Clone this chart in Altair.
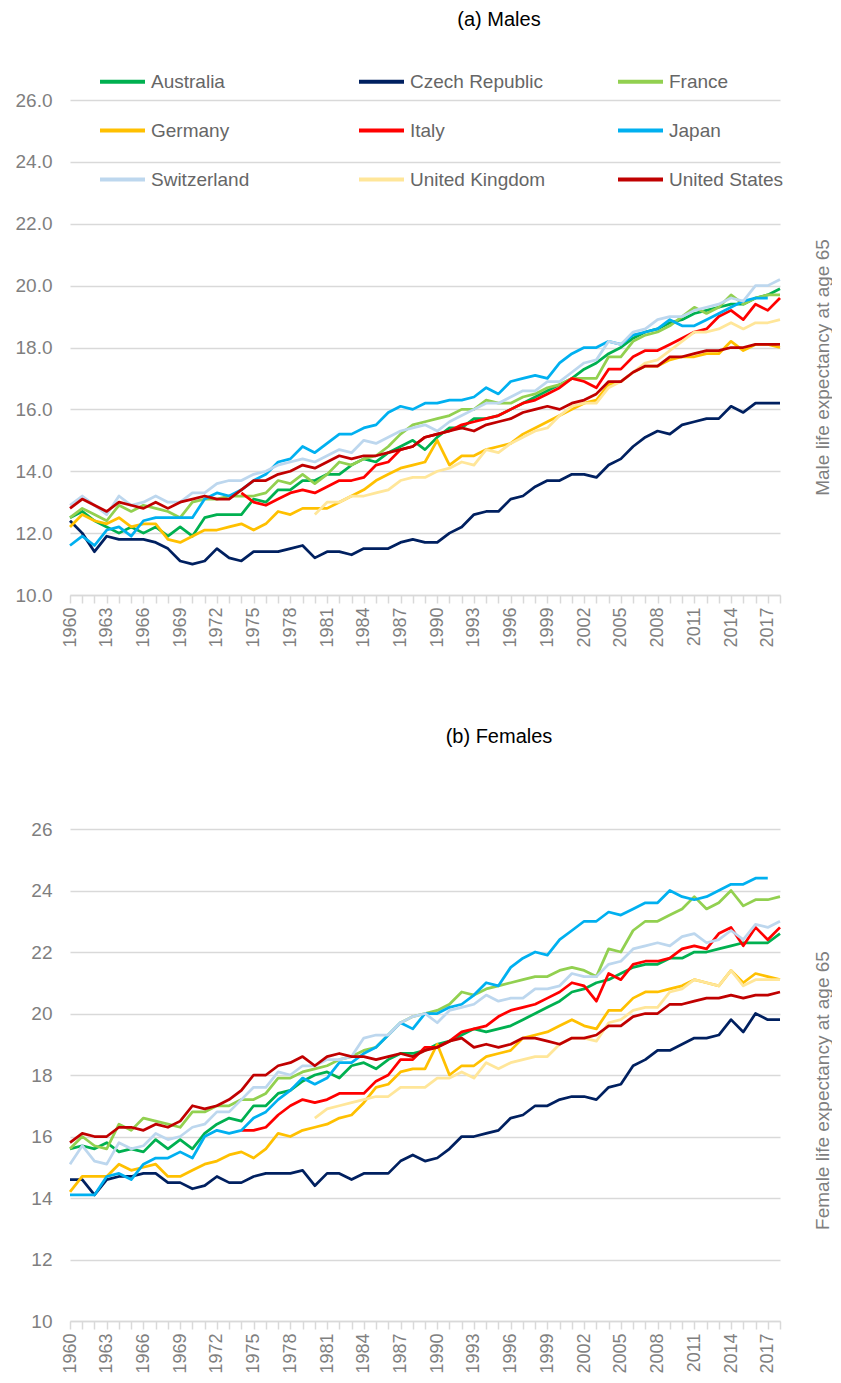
import altair as alt
import pandas as pd

N = None
years = list(range(1960, 2019))
countries = ["Australia", "Czech Republic", "France", "Germany", "Italy",
             "Japan", "Switzerland", "United Kingdom", "United States"]
colors = ["#00B050", "#002060", "#92D050", "#FFC000", "#FF0000",
          "#00B0F0", "#BDD7EE", "#FFE699", "#C00000"]
y_ticks = [10, 12, 14, 16, 18, 20, 22, 24, 26]

# ---------------- Males (1960..2018) ----------------
male_australia = [12.5, 12.7, 12.4, 12.2, 12.0, 12.2, 12.0, 12.2, 11.9, 12.2,
                  11.9, 12.5, 12.6, 12.6, 12.6, 13.1, 13.0, 13.4, 13.4, 13.7,
                  13.7, 13.9, 13.9, 14.2, 14.4, 14.3, 14.6, 14.8, 15.0, 14.7,
                  15.1, 15.4, 15.4, 15.7, 15.7, 15.8, 16.0, 16.2, 16.4, 16.6,
                  16.8, 17.0, 17.3, 17.5, 17.8, 18.0, 18.3, 18.5, 18.6, 18.8,
                  18.9, 19.1, 19.2, 19.3, 19.4, 19.4, 19.6, 19.7, 19.9]
male_czech = [12.4, 12.0, 11.4, 11.9, 11.8, 11.8, 11.8, 11.7, 11.5, 11.1,
              11.0, 11.1, 11.5, 11.2, 11.1, 11.4, 11.4, 11.4, 11.5, 11.6,
              11.2, 11.4, 11.4, 11.3, 11.5, 11.5, 11.5, 11.7, 11.8, 11.7,
              11.7, 12.0, 12.2, 12.6, 12.7, 12.7, 13.1, 13.2, 13.5, 13.7,
              13.7, 13.9, 13.9, 13.8, 14.2, 14.4, 14.8, 15.1, 15.3, 15.2,
              15.5, 15.6, 15.7, 15.7, 16.1, 15.9, 16.2, 16.2, 16.2]
male_france = [12.5, 12.8, 12.6, 12.4, 12.9, 12.7, 12.9, 12.8, 12.7, 12.5,
               13.0, 13.1, 13.1, 13.2, 13.2, 13.2, 13.3, 13.7, 13.6, 13.9,
               13.6, 13.9, 14.3, 14.2, 14.4, 14.5, 14.8, 15.2, 15.5, 15.6,
               15.7, 15.8, 16.0, 16.0, 16.3, 16.2, 16.2, 16.4, 16.5, 16.7,
               16.8, 17.0, 17.0, 17.0, 17.7, 17.7, 18.2, 18.4, 18.5, 18.7,
               19.0, 19.3, 19.1, 19.3, 19.7, 19.4, 19.6, 19.7, 19.7]
male_germany = [12.2, 12.6, 12.4, 12.3, 12.5, 12.2, 12.3, 12.3, 11.8, 11.7,
                11.9, 12.1, 12.1, 12.2, 12.3, 12.1, 12.3, 12.7, 12.6, 12.8,
                12.8, 12.8, 13.0, 13.2, 13.4, 13.7, 13.9, 14.1, 14.2, 14.3,
                15.0, 14.2, 14.5, 14.5, 14.7, 14.8, 14.9, 15.2, 15.4, 15.6,
                15.8, 16.0, 16.2, 16.3, 16.8, 16.9, 17.2, 17.4, 17.4, 17.6,
                17.7, 17.7, 17.8, 17.8, 18.2, 17.9, 18.1, 18.1, 18.0]
male_italy = [N] * 14 + [13.3, 13.0, 12.9, 13.1, 13.3, 13.4,
              13.3, 13.5, 13.7, 13.7, 13.8, 14.2, 14.3, 14.7, 14.8, 15.1,
              15.2, 15.3, 15.5, 15.6, 15.7, 15.8, 16.0, 16.2, 16.3, 16.5,
              16.7, 17.0, 16.9, 16.7, 17.3, 17.3, 17.7, 17.9, 17.9, 18.1,
              18.3, 18.5, 18.6, 19.0, 19.2, 18.9, 19.4, 19.2, 19.6]
male_japan = [11.6, 11.9, 11.6, 12.1, 12.2, 11.9, 12.4, 12.5, 12.5, 12.5,
              12.5, 13.1, 13.3, 13.2, 13.4, 13.7, 13.9, 14.3, 14.4, 14.8,
              14.6, 14.9, 15.2, 15.2, 15.4, 15.5, 15.9, 16.1, 16.0, 16.2,
              16.2, 16.3, 16.3, 16.4, 16.7, 16.5, 16.9, 17.0, 17.1, 17.0,
              17.5, 17.8, 18.0, 18.0, 18.2, 18.1, 18.4, 18.5, 18.6, 18.9,
              18.7, 18.7, 18.9, 19.1, 19.3, 19.5, 19.6, 19.6, N]
male_switzerland = [12.9, 13.2, 12.9, 12.6, 13.2, 12.9, 13.0, 13.2, 13.0, 13.0,
                    13.3, 13.3, 13.6, 13.7, 13.7, 13.9, 14.0, 14.2, 14.3, 14.4,
                    14.3, 14.5, 14.7, 14.6, 15.0, 14.9, 15.1, 15.3, 15.4, 15.5,
                    15.3, 15.6, 15.8, 16.0, 16.2, 16.2, 16.4, 16.6, 16.6, 16.9,
                    16.9, 17.2, 17.5, 17.6, 18.2, 18.1, 18.5, 18.6, 18.9, 19.0,
                    19.0, 19.2, 19.3, 19.4, 19.6, 19.5, 20.0, 20.0, 20.2]
male_uk = [N] * 20 + [12.6, 13.0, 13.0, 13.2, 13.2, 13.3, 13.4, 13.7, 13.8, 13.8,
                      14.0, 14.1, 14.3, 14.2, 14.7, 14.6, 14.9, 15.1, 15.3, 15.4,
                      15.8, 16.1, 16.2, 16.2, 16.7, 16.9, 17.2, 17.5, 17.6, 17.9,
                      18.2, 18.5, 18.5, 18.6, 18.8, 18.6, 18.8, 18.8, 18.9]
male_us = [12.8, 13.1, 12.9, 12.7, 13.0, 12.9, 12.8, 13.0, 12.8, 13.0,
           13.1, 13.2, 13.1, 13.1, 13.4, 13.7, 13.7, 13.9, 14.0, 14.2,
           14.1, 14.3, 14.5, 14.4, 14.5, 14.5, 14.6, 14.7, 14.8, 15.1,
           15.2, 15.3, 15.4, 15.3, 15.5, 15.6, 15.7, 15.9, 16.0, 16.1,
           16.0, 16.2, 16.3, 16.5, 16.9, 16.9, 17.2, 17.4, 17.4, 17.7,
           17.7, 17.8, 17.9, 17.9, 18.0, 18.0, 18.1, 18.1, 18.1]

# ---------------- Females (1960..2018) ----------------
female_australia = [15.6, 15.7, 15.6, 15.8, 15.5, 15.6, 15.5, 15.9, 15.6, 15.9,
                    15.6, 16.1, 16.4, 16.6, 16.5, 17.0, 17.0, 17.4, 17.5, 17.8,
                    18.0, 18.1, 17.9, 18.3, 18.4, 18.2, 18.5, 18.7, 18.7, 18.8,
                    19.0, 19.1, 19.3, 19.5, 19.4, 19.5, 19.6, 19.8, 20.0, 20.2,
                    20.4, 20.7, 20.8, 21.0, 21.1, 21.3, 21.5, 21.6, 21.6, 21.8,
                    21.8, 22.0, 22.0, 22.1, 22.2, 22.3, 22.3, 22.3, 22.6]
female_czech = [14.6, 14.6, 14.1, 14.6, 14.7, 14.7, 14.8, 14.8, 14.5, 14.5,
                14.3, 14.4, 14.7, 14.5, 14.5, 14.7, 14.8, 14.8, 14.8, 14.9,
                14.4, 14.8, 14.8, 14.6, 14.8, 14.8, 14.8, 15.2, 15.4, 15.2,
                15.3, 15.6, 16.0, 16.0, 16.1, 16.2, 16.6, 16.7, 17.0, 17.0,
                17.2, 17.3, 17.3, 17.2, 17.6, 17.7, 18.3, 18.5, 18.8, 18.8,
                19.0, 19.2, 19.2, 19.3, 19.8, 19.4, 20.0, 19.8, 19.8]
female_france = [15.6, 16.0, 15.7, 15.6, 16.4, 16.2, 16.6, 16.5, 16.4, 16.3,
                 16.8, 16.8, 17.0, 17.0, 17.2, 17.2, 17.4, 17.9, 17.9, 18.1,
                 18.2, 18.3, 18.5, 18.6, 18.8, 18.9, 19.3, 19.7, 19.9, 20.0,
                 20.1, 20.3, 20.7, 20.6, 20.8, 20.9, 21.0, 21.1, 21.2, 21.2,
                 21.4, 21.5, 21.4, 21.2, 22.1, 22.0, 22.7, 23.0, 23.0, 23.2,
                 23.4, 23.8, 23.4, 23.6, 24.0, 23.5, 23.7, 23.7, 23.8]
female_germany = [14.2, 14.7, 14.7, 14.7, 15.1, 14.9, 15.0, 15.1, 14.7, 14.7,
                  14.9, 15.1, 15.2, 15.4, 15.5, 15.3, 15.6, 16.1, 16.0, 16.2,
                  16.3, 16.4, 16.6, 16.7, 17.1, 17.6, 17.7, 18.1, 18.2, 18.2,
                  19.0, 18.0, 18.3, 18.3, 18.6, 18.7, 18.8, 19.2, 19.3, 19.4,
                  19.6, 19.8, 19.6, 19.5, 20.1, 20.1, 20.5, 20.7, 20.7, 20.8,
                  20.9, 21.1, 21.0, 20.9, 21.4, 21.0, 21.3, 21.2, 21.1]
female_italy = [N] * 14 + [16.2, 16.2, 16.3, 16.7, 17.0, 17.2,
                17.1, 17.2, 17.4, 17.4, 17.4, 17.8, 18.0, 18.5, 18.5, 18.9,
                18.9, 19.1, 19.4, 19.5, 19.6, 19.9, 20.1, 20.2, 20.3, 20.5,
                20.7, 21.0, 20.9, 20.4, 21.3, 21.1, 21.6, 21.7, 21.7, 21.8,
                22.1, 22.2, 22.1, 22.6, 22.8, 22.2, 22.8, 22.4, 22.8]
female_japan = [14.1, 14.1, 14.1, 14.7, 14.8, 14.6, 15.1, 15.3, 15.3, 15.5,
                15.3, 16.0, 16.2, 16.1, 16.2, 16.6, 16.8, 17.2, 17.5, 17.9,
                17.7, 17.9, 18.4, 18.4, 18.7, 18.9, 19.3, 19.7, 19.5, 20.0,
                20.0, 20.2, 20.3, 20.6, 21.0, 20.9, 21.5, 21.8, 22.0, 21.9,
                22.4, 22.7, 23.0, 23.0, 23.3, 23.2, 23.4, 23.6, 23.6, 24.0,
                23.8, 23.7, 23.8, 24.0, 24.2, 24.2, 24.4, 24.4, N]
female_switzerland = [15.1, 15.7, 15.2, 15.1, 15.8, 15.6, 15.7, 16.1, 15.9, 16.0,
                      16.3, 16.4, 16.8, 16.8, 17.2, 17.6, 17.6, 18.1, 18.0, 18.3,
                      18.3, 18.5, 18.5, 18.6, 19.2, 19.3, 19.3, 19.7, 19.9, 20.0,
                      19.7, 20.1, 20.2, 20.3, 20.6, 20.4, 20.5, 20.5, 20.8, 20.8,
                      20.9, 21.3, 21.2, 21.2, 21.6, 21.7, 22.1, 22.2, 22.3, 22.2,
                      22.5, 22.6, 22.3, 22.4, 22.7, 22.4, 22.9, 22.8, 23.0]
female_uk = [N] * 20 + [16.6, 16.9, 17.0, 17.1, 17.2, 17.3, 17.3, 17.6, 17.6, 17.6,
                        17.9, 17.9, 18.1, 17.9, 18.4, 18.2, 18.4, 18.5, 18.6, 18.6,
                        19.0, 19.2, 19.2, 19.1, 19.7, 19.8, 20.1, 20.2, 20.2, 20.7,
                        20.8, 21.1, 21.0, 20.9, 21.4, 20.9, 21.1, 21.1, 21.1]
female_us = [15.8, 16.1, 16.0, 16.0, 16.3, 16.3, 16.2, 16.4, 16.3, 16.5,
             17.0, 16.9, 17.0, 17.2, 17.5, 18.0, 18.0, 18.3, 18.4, 18.6,
             18.3, 18.6, 18.7, 18.6, 18.6, 18.5, 18.6, 18.7, 18.6, 18.8,
             18.9, 19.1, 19.2, 18.9, 19.0, 18.9, 19.0, 19.2, 19.2, 19.1,
             19.0, 19.2, 19.2, 19.3, 19.6, 19.6, 19.9, 20.0, 20.0, 20.3,
             20.3, 20.4, 20.5, 20.5, 20.6, 20.5, 20.6, 20.6, 20.7]

male_series = [male_australia, male_czech, male_france, male_germany, male_italy,
               male_japan, male_switzerland, male_uk, male_us]
female_series = [female_australia, female_czech, female_france, female_germany,
                 female_italy, female_japan, female_switzerland, female_uk, female_us]


def to_frame(series_list):
    rows = []
    for country, values in zip(countries, series_list):
        for yr, v in zip(years, values):
            if v is not None:
                rows.append({"country": country, "year": yr, "value": v})
    return pd.DataFrame(rows)


FONT = "Liberation Sans"
GRID = "#D9D9D9"
TXT = "#7F7F7F"


def panel(df, title, ytitle, fmt, legend, height, title_y, title_offset):
    x_axis = alt.Axis(values=years, title=None, grid=False,
                      labelExpr="(datum.value - 1960) % 3 == 0 ? datum.value : ''",
                      labelAngle=270, labelAlign="right", labelBaseline="middle",
                      labelPadding=4, tickSize=8, tickWidth=1.5, tickColor=GRID,
                      domainColor=GRID, domainWidth=1.5, labelFlush=False,
                      labelOverlap=False, labelBound=False, labelFont=FONT,
                      labelFontSize=18, labelColor=TXT)
    y_axis = alt.Axis(values=y_ticks, format=fmt, grid=True, gridColor=GRID,
                      gridWidth=1.5, ticks=False, domain=False, labelPadding=18,
                      labelFont=FONT, labelFontSize=19, labelColor=TXT,
                      title=ytitle, titleX=752, titleY=title_y, titleAngle=270,
                      titleAlign="center", titleBaseline="middle", titleFont=FONT,
                      titleFontSize=19, titleFontWeight="normal", titleColor=TXT)
    return alt.Chart(df).mark_line(strokeWidth=2.75, strokeJoin="round").encode(
        x=alt.X("year:Q", scale=alt.Scale(domain=[1960, 2018], nice=False, zero=False),
                axis=x_axis),
        y=alt.Y("value:Q", scale=alt.Scale(domain=[10, 26], nice=False, zero=False),
                axis=y_axis),
        color=alt.Color("country:N", sort=countries,
                        scale=alt.Scale(domain=countries, range=colors),
                        legend=legend),
    ).properties(
        width=710, height=height,
        title=alt.TitleParams(text=title, anchor="middle", dx=74, offset=title_offset,
                              frame="group", font=FONT, fontSize=20,
                              fontWeight="normal", color="#000000"),
    )


legend = alt.Legend(orient="none", legendX=28, legendY=-43, columns=3,
                    direction="horizontal", gridAlign="all", columnPadding=64,
                    rowPadding=14, padding=0,
                    symbolType="stroke", symbolSize=2025, symbolStrokeWidth=4,
                    labelFont=FONT, labelFontSize=19, labelColor="#666666",
                    labelOffset=4, labelLimit=300, title=None)

top = panel(to_frame(male_series), "(a) Males", "Male life expectancy at age 65",
            ".1f", legend, 495, 267, 27)
bottom = panel(to_frame(female_series), "(b) Females", "Female life expectancy at age 65",
               "d", None, 492, 261, 73)

chart = alt.vconcat(top, bottom, spacing=79).resolve_scale(
    color="independent").resolve_legend(color="independent").properties(
    padding={"left": 7, "top": 2, "right": 0, "bottom": 0},
    background="white",
).configure_view(stroke=None)

chart.save("out.html", embed_options={"renderer": "svg", "actions": False})
